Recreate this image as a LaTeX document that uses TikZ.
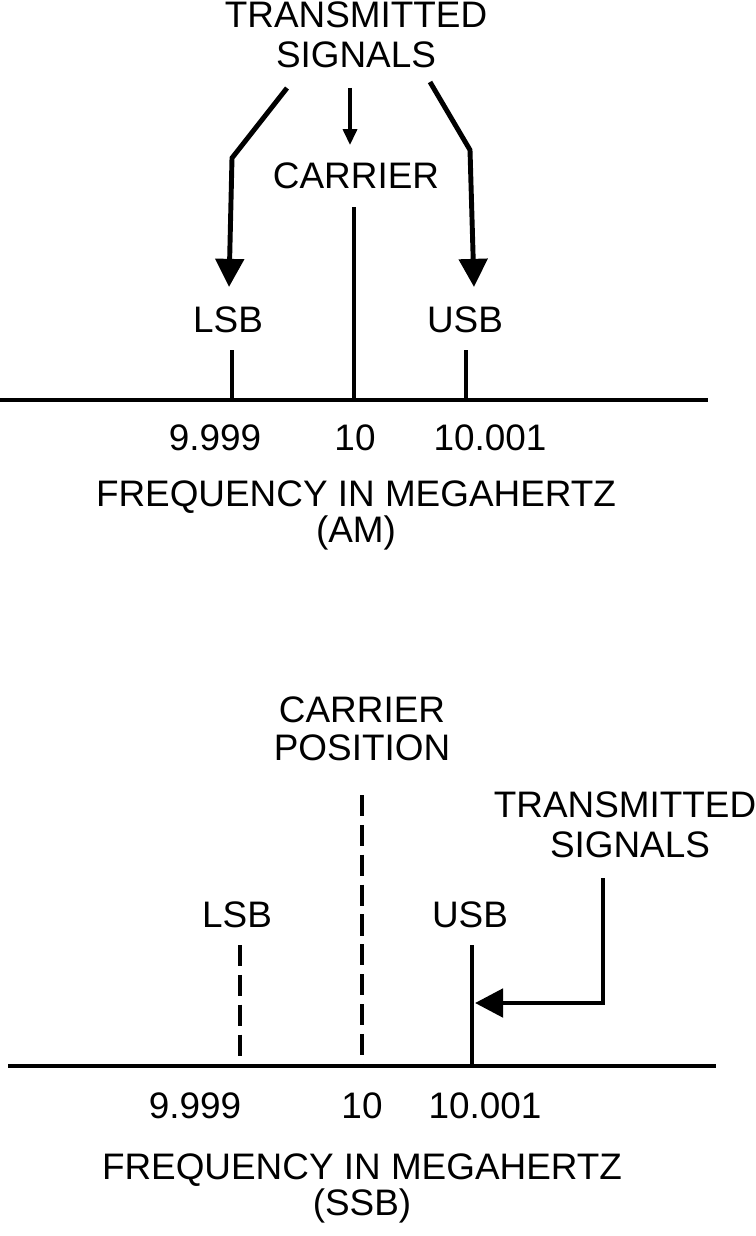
\documentclass[tikz,border=0pt]{standalone}
\usepackage{fontspec}
\setmainfont{Liberation Sans}
\usetikzlibrary{arrows.meta}
\begin{document}
\begin{tikzpicture}[x=0.02cm,y=-0.02cm,
  lbl/.style={font=\fontsize{21}{23}\selectfont,inner sep=0pt},
  thick line/.style={line width=2.8pt},
  dash line/.style={line width=2.8pt,dash pattern=on 12pt off 5pt},
  bigarrow/.style={line width=2.8pt,-{Triangle[length=16pt,width=16pt]}},
  smallarrow/.style={line width=1.8pt,-{Triangle[length=9pt,width=8pt]}}]
\useasboundingbox (0,0) rectangle (755,1236);
% ---- AM ----
\coordinate (a0) at (0,400); \coordinate (a1) at (708,400);
\draw[thick line] (a0) -- (a1);
\coordinate (lb) at (232,400); \coordinate (lt) at (232,350);
\coordinate (cb) at (354,400); \coordinate (ct) at (354,207);
\coordinate (ub) at (466,400); \coordinate (ut) at (466,350);
\draw[thick line] (lb)--(lt) (cb)--(ct) (ub)--(ut);
\node[lbl] (ts1) at (356,15) {TRANSMITTED};
\node[lbl] (ts2) at (356,55) {SIGNALS};
\node[lbl] (car) at (356,176) {CARRIER};
\node[lbl] (lsb) at (228,320) {LSB};
\node[lbl] (usb) at (465,320) {USB};
\node[lbl] (n1) at (215,438) {9.999};
\node[lbl] (n2) at (355,438) {10};
\node[lbl] (n3) at (490,438) {10.001};
\node[lbl] (f1) at (356,497) {FREQUENCY IN MEGAHERTZ};
\node[lbl] (f2) at (356,533) {(AM)};
\coordinate (la0) at (287,88); \coordinate (la1) at (232,158); \coordinate (la2) at (229,287);
\coordinate (ra0) at (430,82); \coordinate (ra1) at (470,150); \coordinate (ra2) at (474,287);
\coordinate (ma0) at (350,88); \coordinate (ma1) at (350,145);
\draw[bigarrow] (la0)--(la1)--(la2);
\draw[bigarrow] (ra0)--(ra1)--(ra2);
\draw[smallarrow] (ma0)--(ma1);
% ---- SSB ----
\coordinate (b0) at (8,1066); \coordinate (b1) at (716,1066);
\draw[thick line] (b0) -- (b1);
\coordinate (slb) at (240,1066); \coordinate (slt) at (240,945);
\coordinate (scb) at (362,1066); \coordinate (sct) at (362,795);
\coordinate (sub) at (472,1066); \coordinate (sut) at (472,945);
\draw[dash line] (slt)--(slb);
\draw[dash line] (sct)--(scb);
\draw[thick line] (sub)--(sut);
\node[lbl] (cp1) at (362,710) {CARRIER};
\node[lbl] (cp2) at (362,748) {POSITION};
\node[lbl] (st1) at (625,805) {TRANSMITTED};
\node[lbl] (st2) at (630,845) {SIGNALS};
\node[lbl] (slsb) at (237,915) {LSB};
\node[lbl] (susb) at (470,915) {USB};
\node[lbl] (m1) at (195,1106) {9.999};
\node[lbl] (m2) at (362,1106) {10};
\node[lbl] (m3) at (485,1106) {10.001};
\node[lbl] (g1) at (362,1170) {FREQUENCY IN MEGAHERTZ};
\node[lbl] (g2) at (362,1206) {(SSB)};
\coordinate (sa0) at (603,878); \coordinate (sa1) at (603,1003); \coordinate (sa2) at (475,1003);
\draw[bigarrow] (sa0)--(sa1)--(sa2);
\end{tikzpicture}
\end{document}
